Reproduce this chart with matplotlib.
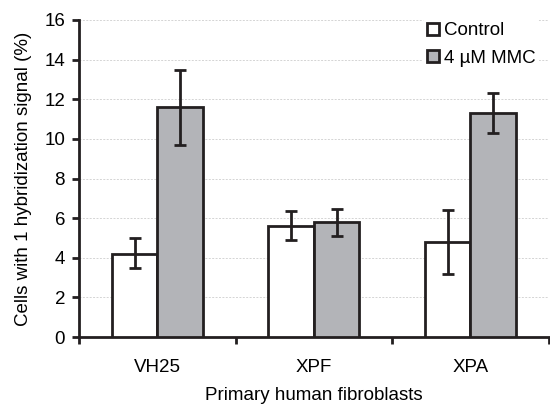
import numpy as np
import matplotlib.pyplot as plt
from matplotlib.lines import Line2D

plt.rcParams['font.family'] = ['Liberation Sans', 'DejaVu Sans']

cells = ["VH25", "XPF", "XPA"]
control = [4.2, 5.6, 4.8]
control_lo = [3.5, 4.9, 3.2]
control_hi = [5.0, 6.35, 6.4]
mmc = [11.6, 5.8, 11.3]
mmc_lo = [9.7, 5.1, 10.3]
mmc_hi = [13.5, 6.45, 12.3]

edge = "#231f20"
grey = "#b3b4b8"
fs = 13.5

fig = plt.figure(figsize=(5.5, 4.08), dpi=100)
ax = fig.add_axes([0.1436, 0.174, 0.854, 0.777])

x = np.arange(len(cells))
w = 0.29
c_err = [np.array(control) - np.array(control_lo), np.array(control_hi) - np.array(control)]
m_err = [np.array(mmc) - np.array(mmc_lo), np.array(mmc_hi) - np.array(mmc)]

ax.bar(x - w/2, control, w, color="white", edgecolor=edge, linewidth=2, zorder=3,
       yerr=c_err, error_kw=dict(ecolor=edge, elinewidth=2, capsize=4, capthick=2, zorder=4))
ax.bar(x + w/2, mmc, w, color=grey, edgecolor=edge, linewidth=2, zorder=3,
       yerr=m_err, error_kw=dict(ecolor=edge, elinewidth=2, capsize=4, capthick=2, zorder=4))

ax.set_xlim(-0.5, 2.5)
ax.set_ylim(0, 16)
ax.set_yticks(np.arange(0, 17, 2))
ax.yaxis.grid(True, color="#d4d4d4", linestyle=(0, (2, 1.5)), linewidth=0.7, zorder=0)
ax.set_axisbelow(True)

ax.set_xticks([-0.5, 0.5, 1.5, 2.5])
ax.set_xticklabels([])
ax.set_xticks(x, minor=True)
ax.set_xticklabels(cells, minor=True, fontsize=fs)
ax.tick_params(axis="x", which="minor", length=0, pad=16)
ax.tick_params(axis="x", which="major", length=5, width=2, color=edge, direction="out")
ax.tick_params(axis="y", length=5, width=2, color=edge, direction="out", labelsize=fs, pad=5)

for s in ["top", "right"]:
    ax.spines[s].set_visible(False)
for s in ["left", "bottom"]:
    ax.spines[s].set_linewidth(2)
    ax.spines[s].set_color(edge)

ax.set_ylabel("Cells with 1 hybridization signal (%)", fontsize=fs, labelpad=9)
ax.set_xlabel("Primary human fibroblasts", fontsize=fs, labelpad=8)

handles = [
    Line2D([], [], marker="s", linestyle="none", markersize=8, markerfacecolor="white",
           markeredgecolor=edge, markeredgewidth=2),
    Line2D([], [], marker="s", linestyle="none", markersize=8, markerfacecolor=grey,
           markeredgecolor=edge, markeredgewidth=2),
]
leg = ax.legend(handles, ["Control", "4 \u00b5M MMC"], loc="upper right",
                bbox_to_anchor=(1.0, 1.035), frameon=True, fontsize=fs,
                handlelength=0.6, handletextpad=0.3, borderpad=0.2, labelspacing=0.55)
leg.get_frame().set_edgecolor("none")
leg.get_frame().set_facecolor("white")
leg.get_frame().set_alpha(1)

fig.savefig("out.png", dpi=100)
